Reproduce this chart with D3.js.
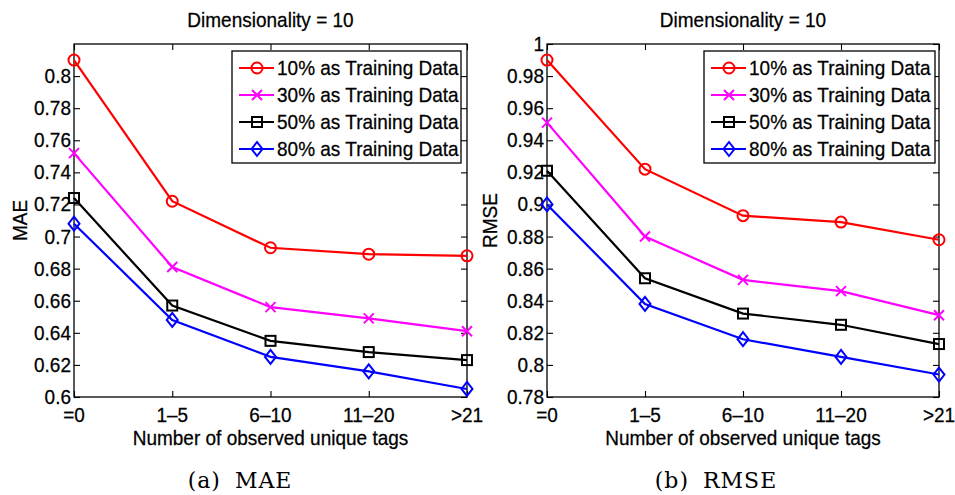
<!DOCTYPE html>
<html>
<head>
<meta charset="utf-8">
<script src="https://cdn.jsdelivr.net/npm/d3@7"></script>
<style>
  html, body { margin: 0; padding: 0; background: #fff; }
  svg { display: block; }
  text { font-family: "Liberation Sans", Arial, sans-serif; fill: #000; stroke: #000; stroke-width: 0.25; }
  text.caption { font-family: "DejaVu Serif", "Liberation Serif", serif; stroke: none; }
</style>
</head>
<body>
<svg id="chart" width="955" height="495"></svg>
<script>
// Tag-count buckets on the x axis
const categories = ["=0", "1\u20135", "6\u201310", "11\u201320", ">21"];

const seriesNames = [
  "10% as Training Data",
  "30% as Training Data",
  "50% as Training Data",
  "80% as Training Data"
];
const seriesColors = ["#ff0000", "#ff00ff", "#000000", "#0000ff"];
const seriesMarkers = ["circle", "cross", "square", "diamond"];

// MAE per training split
const mae10 = [0.810, 0.722, 0.693, 0.689, 0.688];
const mae30 = [0.752, 0.681, 0.656, 0.649, 0.641];
const mae50 = [0.724, 0.657, 0.635, 0.628, 0.623];
const mae80 = [0.708, 0.648, 0.625, 0.616, 0.605];

// RMSE per training split
const rmse10 = [0.990, 0.922, 0.893, 0.889, 0.878];
const rmse30 = [0.951, 0.880, 0.853, 0.846, 0.831];
const rmse50 = [0.921, 0.854, 0.832, 0.825, 0.813];
const rmse80 = [0.900, 0.838, 0.816, 0.805, 0.794];

const maeTicks = [0.6, 0.62, 0.64, 0.66, 0.68, 0.7, 0.72, 0.74, 0.76, 0.78, 0.8];
const maeTickLabels = ["0.6", "0.62", "0.64", "0.66", "0.68", "0.7", "0.72", "0.74", "0.76", "0.78", "0.8"];
const rmseTicks = [0.78, 0.8, 0.82, 0.84, 0.86, 0.88, 0.9, 0.92, 0.94, 0.96, 0.98, 1.0];
const rmseTickLabels = ["0.78", "0.8", "0.82", "0.84", "0.86", "0.88", "0.9", "0.92", "0.94", "0.96", "0.98", "1"];

const titleText = "Dimensionality = 10";
const xLabel = "Number of observed unique tags";

const svg = d3.select("#chart");
const FONT = 19;
const STRETCH = 1.1; // glyphs are set slightly taller than wide

// place a label at (x, y) with the vertical stretch applied
function label(g, x, y, str, anchor, rotate) {
  const rot = rotate ? ` rotate(${rotate})` : "";
  return g.append("text")
    .attr("transform", `translate(${x},${y})${rot} scale(1,${STRETCH})`)
    .attr("text-anchor", anchor || "start")
    .attr("font-size", FONT)
    .text(str);
}

function drawMarker(g, type, x, y, color) {
  const s = 2;
  if (type === "circle") {
    g.append("circle").attr("cx", x).attr("cy", y).attr("r", 5.5)
      .attr("fill", "none").attr("stroke", color).attr("stroke-width", s);
  } else if (type === "cross") {
    const r = 5;
    g.append("path")
      .attr("d", `M${x - r},${y - r}L${x + r},${y + r}M${x - r},${y + r}L${x + r},${y - r}`)
      .attr("stroke", color).attr("stroke-width", s).attr("fill", "none");
  } else if (type === "square") {
    const h = 5;
    g.append("rect").attr("x", x - h).attr("y", y - h).attr("width", 2 * h).attr("height", 2 * h)
      .attr("fill", "none").attr("stroke", color).attr("stroke-width", s);
  } else if (type === "diamond") {
    const w = 5.5, h = 7;
    g.append("path")
      .attr("d", `M${x},${y - h}L${x + w},${y}L${x},${y + h}L${x - w},${y}Z`)
      .attr("fill", "none").attr("stroke", color).attr("stroke-width", s);
  }
}

function drawPanel(cfg) {
  const { left, right, top, bottom } = cfg;
  const g = svg.append("g");

  const x = d3.scalePoint().domain(categories).range([left, right]);
  const y = d3.scaleLinear().domain(cfg.domain).range([bottom, top]);

  // box frame
  g.append("rect").attr("x", left).attr("y", top)
    .attr("width", right - left).attr("height", bottom - top)
    .attr("fill", "none").attr("stroke", "#000").attr("stroke-width", 1.3);

  // inward ticks on all four sides
  const tickLen = 6;
  const yAxisL = d3.axisRight(y).tickValues(cfg.ticks).tickSize(tickLen).tickFormat("");
  const yAxisR = d3.axisLeft(y).tickValues(cfg.ticks).tickSize(tickLen).tickFormat("");
  const xAxisB = d3.axisTop(x).tickSize(tickLen).tickFormat("");
  const xAxisT = d3.axisBottom(x).tickSize(tickLen).tickFormat("");
  [[yAxisL, `translate(${left},0)`], [yAxisR, `translate(${right},0)`],
   [xAxisB, `translate(0,${bottom})`], [xAxisT, `translate(0,${top})`]].forEach(([ax, tr]) => {
    const a = g.append("g").attr("transform", tr).call(ax);
    a.select(".domain").remove();
    a.selectAll("line").attr("stroke", "#000").attr("stroke-width", 1.1);
  });

  // y tick labels
  cfg.ticks.forEach((t, i) => label(g, left - 3, y(t) + 7, cfg.tickLabels[i], "end"));

  // x tick labels
  categories.forEach(c => label(g, x(c), bottom + 25, c, "middle"));

  // series
  const line = d3.line().x((d, i) => x(categories[i])).y(d => y(d));
  cfg.series.forEach((vals, si) => {
    g.append("path").datum(vals).attr("d", line)
      .attr("fill", "none").attr("stroke", seriesColors[si]).attr("stroke-width", 2.2);
    vals.forEach((v, i) => drawMarker(g, seriesMarkers[si], x(categories[i]), y(v), seriesColors[si]));
  });

  // legend
  const lg = cfg.legend;
  g.append("rect").attr("x", lg.x).attr("y", lg.y).attr("width", lg.w).attr("height", lg.h)
    .attr("fill", "#fff").attr("stroke", "#000").attr("stroke-width", 1.3);
  seriesNames.forEach((name, si) => {
    const cy = lg.y + 17 + si * 27;
    g.append("line").attr("x1", lg.x + 7).attr("x2", lg.x + 42).attr("y1", cy).attr("y2", cy)
      .attr("stroke", seriesColors[si]).attr("stroke-width", 2.2);
    drawMarker(g, seriesMarkers[si], lg.x + 25, cy, seriesColors[si]);
    label(g, lg.x + 45, cy + 7, name, "start");
  });

  // title
  label(g, (left + right) / 2, 27, titleText, "middle");

  // axis labels
  label(g, (left + right) / 2, bottom + 48, xLabel, "middle");
  label(g, cfg.yLabelX, (top + bottom) / 2, cfg.yLabel, "middle", -90);

  // caption
  g.append("text").attr("class", "caption")
    .attr("x", cfg.captionX).attr("y", 488)
    .attr("text-anchor", "middle").attr("font-size", 22)
    .attr("letter-spacing", 1).attr("word-spacing", 6)
    .text(cfg.caption);
}

drawPanel({
  left: 74, right: 467, top: 44, bottom: 397,
  domain: [0.6, 0.82], ticks: maeTicks, tickLabels: maeTickLabels,
  series: [mae10, mae30, mae50, mae80],
  legend: { x: 232, y: 51, w: 229, h: 112 },
  yLabel: "MAE", yLabelX: 27,
  caption: "(a) MAE", captionX: 240
});

drawPanel({
  left: 547, right: 939, top: 44, bottom: 397,
  domain: [0.78, 1.0], ticks: rmseTicks, tickLabels: rmseTickLabels,
  series: [rmse10, rmse30, rmse50, rmse80],
  legend: { x: 704, y: 51, w: 231, h: 112 },
  yLabel: "RMSE", yLabelX: 497,
  caption: "(b) RMSE", captionX: 716
});
</script>
</body>
</html>
